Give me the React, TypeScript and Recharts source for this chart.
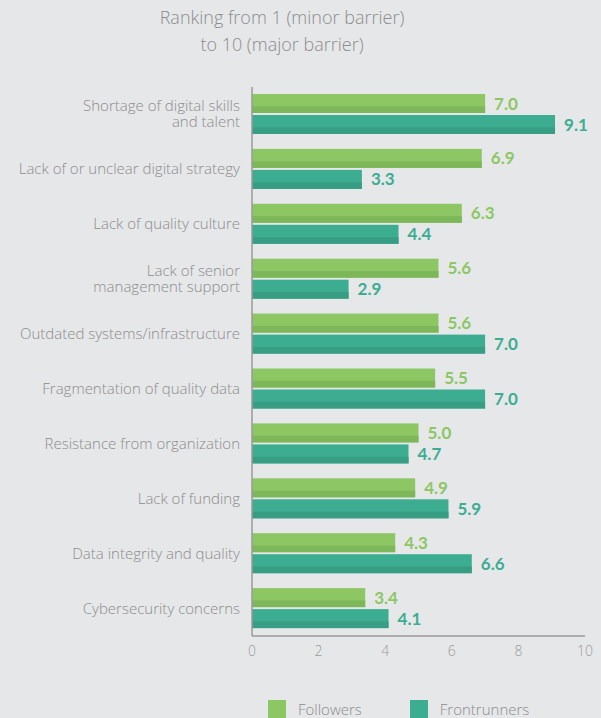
import React from 'react';
import { BarChart, Bar, XAxis, YAxis, LabelList } from 'recharts';

const categories = [
  'Shortage of digital skills\nand talent',
  'Lack of or unclear digital strategy',
  'Lack of quality culture',
  'Lack of senior\nmanagement support',
  'Outdated systems/infrastructure',
  'Fragmentation of quality data',
  'Resistance from organization',
  'Lack of funding',
  'Data integrity and quality',
  'Cybersecurity concerns',
];
const followers = [7.0, 6.9, 6.3, 5.6, 5.6, 5.5, 5.0, 4.9, 4.3, 3.4];
const frontrunners = [9.1, 3.3, 4.4, 2.9, 7.0, 7.0, 4.7, 5.9, 6.6, 4.1];
const xTicks = [0, 2, 4, 6, 8, 10];

const series = [
  { key: 'followers', name: 'Followers', color: '#8cc764', shade: '#7eb75a' },
  { key: 'frontrunners', name: 'Frontrunners', color: '#3cad91', shade: '#379e84' },
];

const data = categories.map((name, i) => ({
  name,
  followers: followers[i],
  frontrunners: frontrunners[i],
}));

const FONT = 'Lato, "Open Sans", sans-serif';
const TEXT_FONT = '"Open Sans", Lato, sans-serif';
const GREY = '#8c8c8c';

const CategoryTick = (props: any) => {
  const { x, y, payload } = props;
  const lines = String(payload.value).split('\n');
  const lh = 16;
  return (
    <text x={x} y={y} textAnchor="end" fill={GREY} fontSize={15} fontFamily={TEXT_FONT} fontWeight={300}>
      {lines.map((l, i) => (
        <tspan key={i} x={x} dy={i === 0 ? -((lines.length - 1) * lh) / 2 + 5 : lh}>
          {l}
        </tspan>
      ))}
    </text>
  );
};

const shadedBar = (shade: string) => (props: any) => {
  const { x, y, width, height, fill } = props;
  if (!width || width <= 0) return null;
  const h2 = height * 0.35;
  return (
    <g>
      <rect x={x} y={y} width={width} height={height} fill={fill} />
      <rect x={x} y={y + height - h2} width={width} height={h2} fill={shade} />
    </g>
  );
};

export default function App() {
  return (
    <div
      style={{
        position: 'fixed',
        top: 0,
        left: 0,
        width: 601,
        height: 718,
        background: '#e6e7e9',
        overflow: 'hidden',
        fontFamily: TEXT_FONT,
      }}
    >
      <div
        style={{
          position: 'absolute',
          top: 4,
          left: 0,
          width: 564,
          textAlign: 'center',
          color: GREY,
          fontSize: 18,
          lineHeight: '27px',
          fontWeight: 300,
        }}
      >
        Ranking from 1 (minor barrier)
        <br />
        to 10 (major barrier)
      </div>
      <BarChart
        width={601}
        height={718}
        data={data}
        layout="vertical"
        margin={{ top: 87, right: 16, bottom: 52, left: 0 }}
        barSize={19}
        barGap={2}
      >
        <XAxis
          type="number"
          domain={[0, 10]}
          ticks={xTicks}
          tickLine={false}
          axisLine={{ stroke: '#9a9a9a', strokeWidth: 1.5 }}
          tick={{ fill: '#9a9a9a', fontSize: 14, fontFamily: TEXT_FONT, fontWeight: 300 }}
          tickMargin={4}
          height={30}
        />
        <YAxis
          type="category"
          dataKey="name"
          width={252}
          tickLine={false}
          axisLine={{ stroke: '#9a9a9a', strokeWidth: 1.5 }}
          tick={<CategoryTick />}
          tickMargin={6}
          interval={0}
        />
        {series.map((s) => (
          <Bar
            key={s.key}
            dataKey={s.key}
            name={s.name}
            fill={s.color}
            shape={shadedBar(s.shade)}
            isAnimationActive={false}
          >
            <LabelList
              dataKey={s.key}
              position="right"
              offset={9}
              fill={s.color}
              fontSize={17}
              fontWeight={700}
              fontFamily={FONT}
              formatter={(v: any) => Number(v).toFixed(1)}
            />
          </Bar>
        ))}
      </BarChart>
      <div
        style={{
          position: 'absolute',
          top: 700,
          left: 268,
          display: 'flex',
          alignItems: 'center',
          color: GREY,
          fontSize: 15,
          fontWeight: 300,
        }}
      >
        {series.map((s, i) => (
          <div key={s.key} style={{ display: 'flex', alignItems: 'center', marginRight: i === 0 ? 48 : 0 }}>
            <span style={{ width: 18, height: 18, background: s.color, display: 'inline-block', marginRight: 12 }} />
            <span style={{ lineHeight: '18px' }}>{s.name}</span>
          </div>
        ))}
      </div>
    </div>
  );
}
